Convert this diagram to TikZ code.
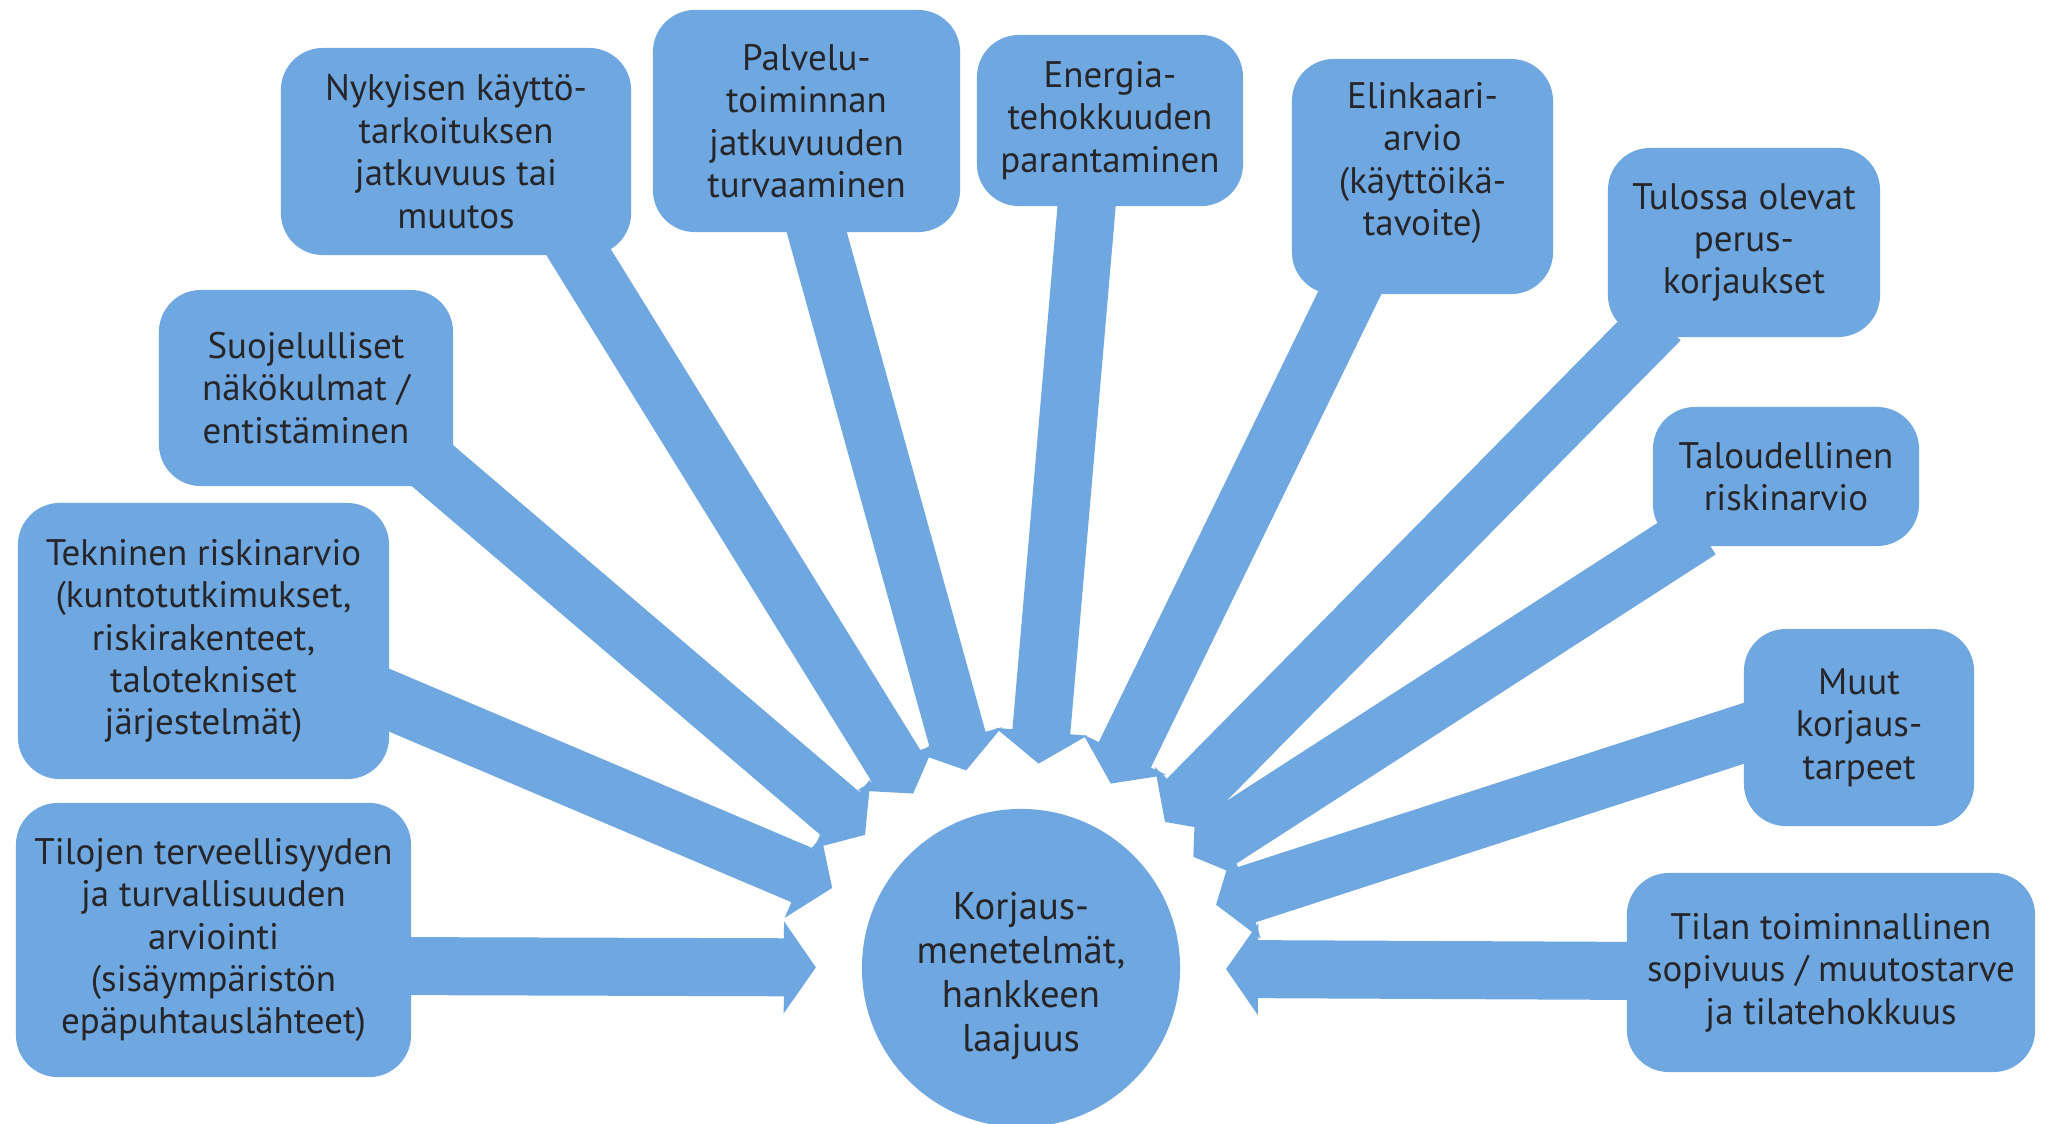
\documentclass[tikz,border=0pt]{standalone}
\usepackage{fontspec}
\setmainfont{PT Sans}
\usetikzlibrary{calc}
\definecolor{blu}{RGB}{111,168,224}
\definecolor{txt}{RGB}{38,38,42}
\begin{document}
\begin{tikzpicture}[x=0.01cm,y=-0.01cm,
  box/.style={fill=blu,rounded corners=0.42cm,align=center,text=txt,
    font=\fontsize{10.5}{12.07}\selectfont,inner sep=0pt},
  hub/.style={circle,fill=blu,align=center,text=txt,inner sep=0pt,
    minimum size=3.18cm,font=\fontsize{11}{12.5}\selectfont}]
\useasboundingbox[fill=white] (0,0) rectangle (2047,1123);
% centre
\node[hub] (c) at (1021,968)
  {\raisebox{-0.09cm}[\height][\depth]{\begin{tabular}{@{}c@{}}Korjaus-\\menetelmät,\\hankkeen\\laajuus\end{tabular}}};
% arrow start points inside the boxes
\coordinate (s1) at (380,966);
\coordinate (s2) at (370,692);
\coordinate (s3) at (420,455);
\coordinate (s4) at (568,235);
\coordinate (s5) at (812,215);
\coordinate (s6) at (1088,190);
\coordinate (s7) at (1356,280);
\coordinate (s8) at (1660,320);
\coordinate (s9) at (1700,530);
\coordinate (s10) at (1760,728);
\coordinate (s11) at (1650,971);
\foreach \i in {1,...,11}{
  \coordinate (t\i) at ($(c.center)!2.05cm!(s\i)$);
  \coordinate (h\i) at ($(t\i)!0.32cm!(s\i)$);
  \fill[blu] ($(s\i)!0.29cm!90:(t\i)$) -- ($(h\i)!0.29cm!-90:(s\i)$)
    -- ($(h\i)!0.46cm!-90:(s\i)$) -- (t\i) -- ($(h\i)!0.46cm!90:(s\i)$)
    -- ($(h\i)!0.29cm!90:(s\i)$) -- ($(s\i)!0.29cm!-90:(t\i)$) -- cycle;
}
% boxes
\node[box,minimum width=3.95cm,minimum height=2.74cm] (b1) at (213.5,940)
  {Tilojen terveellisyyden\\ja turvallisuuden\\arviointi\\(sisäympäristön\\epäpuhtauslähteet)};
\node[box,minimum width=3.71cm,minimum height=2.76cm] (b2) at (203.5,641)
  {Tekninen riskinarvio\\(kuntotutkimukset,\\riskirakenteet,\\talotekniset\\järjestelmät)};
\node[box,minimum width=2.94cm,minimum height=1.96cm] (b3) at (306,388)
  {Suojelulliset\\näkökulmat /\\entistäminen};
\node[box,minimum width=3.50cm,minimum height=2.07cm] (b4) at (456,151.5)
  {Nykyisen käyttö-\\tarkoituksen\\jatkuvuus tai\\muutos};
\node[box,minimum width=3.07cm,minimum height=2.22cm] (b5) at (806.5,121)
  {Palvelu-\\toiminnan\\jatkuvuuden\\turvaaminen};
\node[box,minimum width=2.66cm,minimum height=1.71cm] (b6) at (1110,120.5)
  {Energia-\\tehokkuuden\\parantaminen};
\node[box,minimum width=2.61cm,minimum height=2.35cm] (b7) at (1422.5,176.5)
  {\raisebox{0.13cm}[\height][\depth]{\begin{tabular}{@{}c@{}}Elinkaari-\\arvio\\(käyttöikä-\\tavoite)\end{tabular}}};
\node[box,minimum width=2.72cm,minimum height=1.89cm] (b8) at (1744,242.5)
  {Tulossa olevat\\perus-\\korjaukset};
\node[box,minimum width=2.66cm,minimum height=1.39cm] (b9) at (1786,476.5)
  {Taloudellinen\\riskinarvio};
\node[box,minimum width=2.30cm,minimum height=1.97cm] (b10) at (1859,727.5)
  {Muut\\korjaus-\\tarpeet};
\node[box,minimum width=4.08cm,minimum height=1.99cm] (b11) at (1831,972.5)
  {Tilan toiminnallinen\\sopivuus / muutostarve\\ja tilatehokkuus};
\end{tikzpicture}
\end{document}
